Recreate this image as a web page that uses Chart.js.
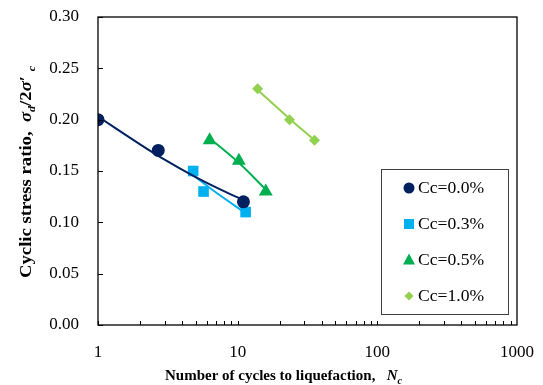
<!DOCTYPE html>
<html><head><meta charset="utf-8">
<script src="https://cdn.jsdelivr.net/npm/chart.js@4.4.0/dist/chart.umd.min.js"></script>
<style>html,body{margin:0;padding:0;background:#fff}#wrap{width:543px;height:385px}</style>
</head><body><div id="wrap"><canvas id="c" width="543" height="385"></canvas></div>
<script>
// ---- data ----
const seriesLabels = ['Cc=0.0%', 'Cc=0.3%', 'Cc=0.5%', 'Cc=1.0%'];
const seriesColors = ['#002060', '#00B0F0', '#00B050', '#92D050'];
const seriesShapes = ['circle', 'rect', 'triangle', 'rectRot'];

const cycles00 = [1, 2.7, 11];
const csr00    = [0.20, 0.17, 0.12];
const cycles03 = [4.8, 5.7, 11.4];
const csr03    = [0.15, 0.13, 0.11];
const cycles05 = [6.3, 10.2, 15.9];
const csr05    = [0.18, 0.16, 0.13];
const cycles10 = [13.9, 23.5, 35.5];
const csr10    = [0.23, 0.20, 0.18];

// trend lines
const trendCycles00 = [1, 2, 3, 5, 7, 9, 11];
const trendCsr00    = [0.203, 0.176, 0.161, 0.144, 0.134, 0.127, 0.122];
const trendCycles03 = [4.8, 7, 11.4];
const trendCsr03    = [0.146, 0.129, 0.109];
const trendCycles05 = [6.3, 10.2, 15.9];
const trendCsr05    = [0.182, 0.158, 0.132];
const trendCycles10 = [13.9, 23.5, 35.5];
const trendCsr10    = [0.229, 0.201, 0.180];

const xTickLabels = [1, 10, 100, 1000];
const yTickValues = [0, 0.05, 0.10, 0.15, 0.20, 0.25, 0.30];

const toXY = (xs, ys) => xs.map((x, i) => ({x: x, y: ys[i]}));

const markerSets = [[cycles00, csr00], [cycles03, csr03], [cycles05, csr05], [cycles10, csr10]];
const trendSets = [[trendCycles00, trendCsr00], [trendCycles03, trendCsr03], [trendCycles05, trendCsr05], [trendCycles10, trendCsr10]];
const markerRadius = [6.5, 7.5, 8, 5.5];

const datasets = [];
trendSets.forEach((s, i) => {
  datasets.push({
    label: seriesLabels[i] + ' trend', data: toXY(s[0], s[1]), showLine: true,
    borderColor: seriesColors[i], borderWidth: 2, pointRadius: 0,
    tension: 0.4, cubicInterpolationMode: 'monotone', fill: false
  });
});
markerSets.forEach((s, i) => {
  datasets.push({
    label: seriesLabels[i], data: toXY(s[0], s[1]), showLine: false,
    pointStyle: seriesShapes[i], pointRadius: markerRadius[i],
    backgroundColor: seriesColors[i], borderColor: seriesColors[i], borderWidth: 0
  });
});

const SERIF = '"Liberation Serif", "Times New Roman", serif';

function drawRich(ctx, segs, x, y, sx) {
  ctx.save();
  ctx.translate(x, y);
  ctx.scale(sx, 1);
  let cx = 0;
  segs.forEach(s => {
    ctx.font = s.font;
    ctx.fillText(s.t, cx, s.dy || 0);
    cx += ctx.measureText(s.t).width;
  });
  ctx.restore();
}

const customDraw = {
  id: 'customDraw',
  afterDraw(chart) {
    const ctx = chart.ctx;
    const a = chart.chartArea;
    const xs = chart.scales.x, ys = chart.scales.y;
    ctx.save();
    ctx.strokeStyle = '#000';
    ctx.lineWidth = 1.3;
    ctx.strokeRect(a.left, a.top, a.right - a.left, a.bottom - a.top);
    // inward y ticks
    ctx.lineWidth = 1;
    yTickValues.forEach(v => {
      const py = Math.round(ys.getPixelForValue(v)) + 0.5;
      ctx.beginPath(); ctx.moveTo(a.left, py); ctx.lineTo(a.left + 5, py); ctx.stroke();
    });
    // inward x ticks (major + minor)
    for (let d = 0; d < 3; d++) {
      for (let k = 1; k <= 9; k++) {
        const px = Math.round(xs.getPixelForValue(k * Math.pow(10, d))) + 0.5;
        ctx.beginPath(); ctx.moveTo(px, a.bottom); ctx.lineTo(px, a.bottom - 4); ctx.stroke();
      }
    }
    // legend
    ctx.lineWidth = 1;
    ctx.strokeStyle = '#404040';
    ctx.strokeRect(381.5, 169.5, 127, 145);
    ctx.textBaseline = 'middle';
    ctx.textAlign = 'left';
    const legendRadius = [5.5, 7, 6.5, 4.5];
    seriesLabels.forEach((lab, i) => {
      const ly = 188 + i * 36;
      ctx.fillStyle = seriesColors[i];
      ctx.beginPath();
      if (seriesShapes[i] === 'circle') { ctx.arc(409, ly, legendRadius[i], 0, Math.PI * 2); }
      else if (seriesShapes[i] === 'rect') { ctx.rect(409 - 5, ly - 5, 10, 10); }
      else if (seriesShapes[i] === 'triangle') { ctx.moveTo(409, ly - 6.5); ctx.lineTo(415, ly + 4.5); ctx.lineTo(403, ly + 4.5); ctx.closePath(); }
      else { ctx.moveTo(409, ly - 4.5); ctx.lineTo(413.5, ly); ctx.lineTo(409, ly + 4.5); ctx.lineTo(404.5, ly); ctx.closePath(); }
      ctx.fill();
      ctx.fillStyle = '#000';
      drawRich(ctx, [{t: lab, font: '16px ' + SERIF}], 418, ly + 1, 1.1);
    });
    // x title
    ctx.textBaseline = 'alphabetic';
    ctx.fillStyle = '#000';
    drawRich(ctx, [
      {t: 'Number of cycles to liquefaction,   ', font: 'bold 15px ' + SERIF},
      {t: 'N', font: 'bold italic 15px ' + SERIF},
      {t: 'c', font: 'bold italic 10px ' + SERIF, dy: 4}
    ], 165, 380, 1.0);
    // y title (rotated)
    ctx.save();
    ctx.translate(31, 278);
    ctx.rotate(-Math.PI / 2);
    const b = 'bold 17px ' + SERIF, bi = 'bold italic 17px ' + SERIF, bs = 'bold italic 11px ' + SERIF;
    drawRich(ctx, [
      {t: 'Cyclic stress ratio,  ', font: b},
      {t: 'σ', font: bi},
      {t: 'd', font: bs, dy: 4},
      {t: '/2', font: b},
      {t: 'σ', font: bi},
      {t: '\u2032 ', font: b},
      {t: 'c', font: bs, dy: 4}
    ], 0, 0, 1.1);
    ctx.restore();
    ctx.restore();
  }
};

new Chart(document.getElementById('c'), {
  type: 'scatter',
  data: {datasets: datasets},
  options: {
    responsive: false, animation: false, devicePixelRatio: 1,
    layout: {padding: {left: 0, top: 17, right: 26, bottom: 0}},
    plugins: {legend: {display: false}, tooltip: {enabled: false}},
    scales: {
      x: {
        type: 'logarithmic', min: 1, max: 1000,
        grid: {display: false, drawTicks: false}, border: {display: false},
        ticks: {
          autoSkip: false, maxRotation: 0, minRotation: 0, padding: 17,
          color: '#000', font: {family: SERIF, size: 17},
          callback: function (v) { return xTickLabels.includes(v) ? String(v) : ''; }
        },
        afterBuildTicks: function (s) { s.ticks = xTickLabels.map(v => ({value: v})); },
        afterFit: function (s) { s.height = 60; s.paddingLeft = 0; s.paddingRight = 0; }
      },
      y: {
        min: 0, max: 0.3,
        grid: {display: false, drawTicks: false}, border: {display: false},
        ticks: {
          padding: 19, color: '#000', font: {family: SERIF, size: 17},
          callback: function (v) { return Number(v).toFixed(2); }
        },
        afterBuildTicks: function (s) { s.ticks = yTickValues.map(v => ({value: v})); },
        afterFit: function (s) { s.width = 98; s.paddingTop = 0; s.paddingBottom = 0; }
      }
    }
  },
  plugins: [customDraw]
});
</script>
</body></html>
